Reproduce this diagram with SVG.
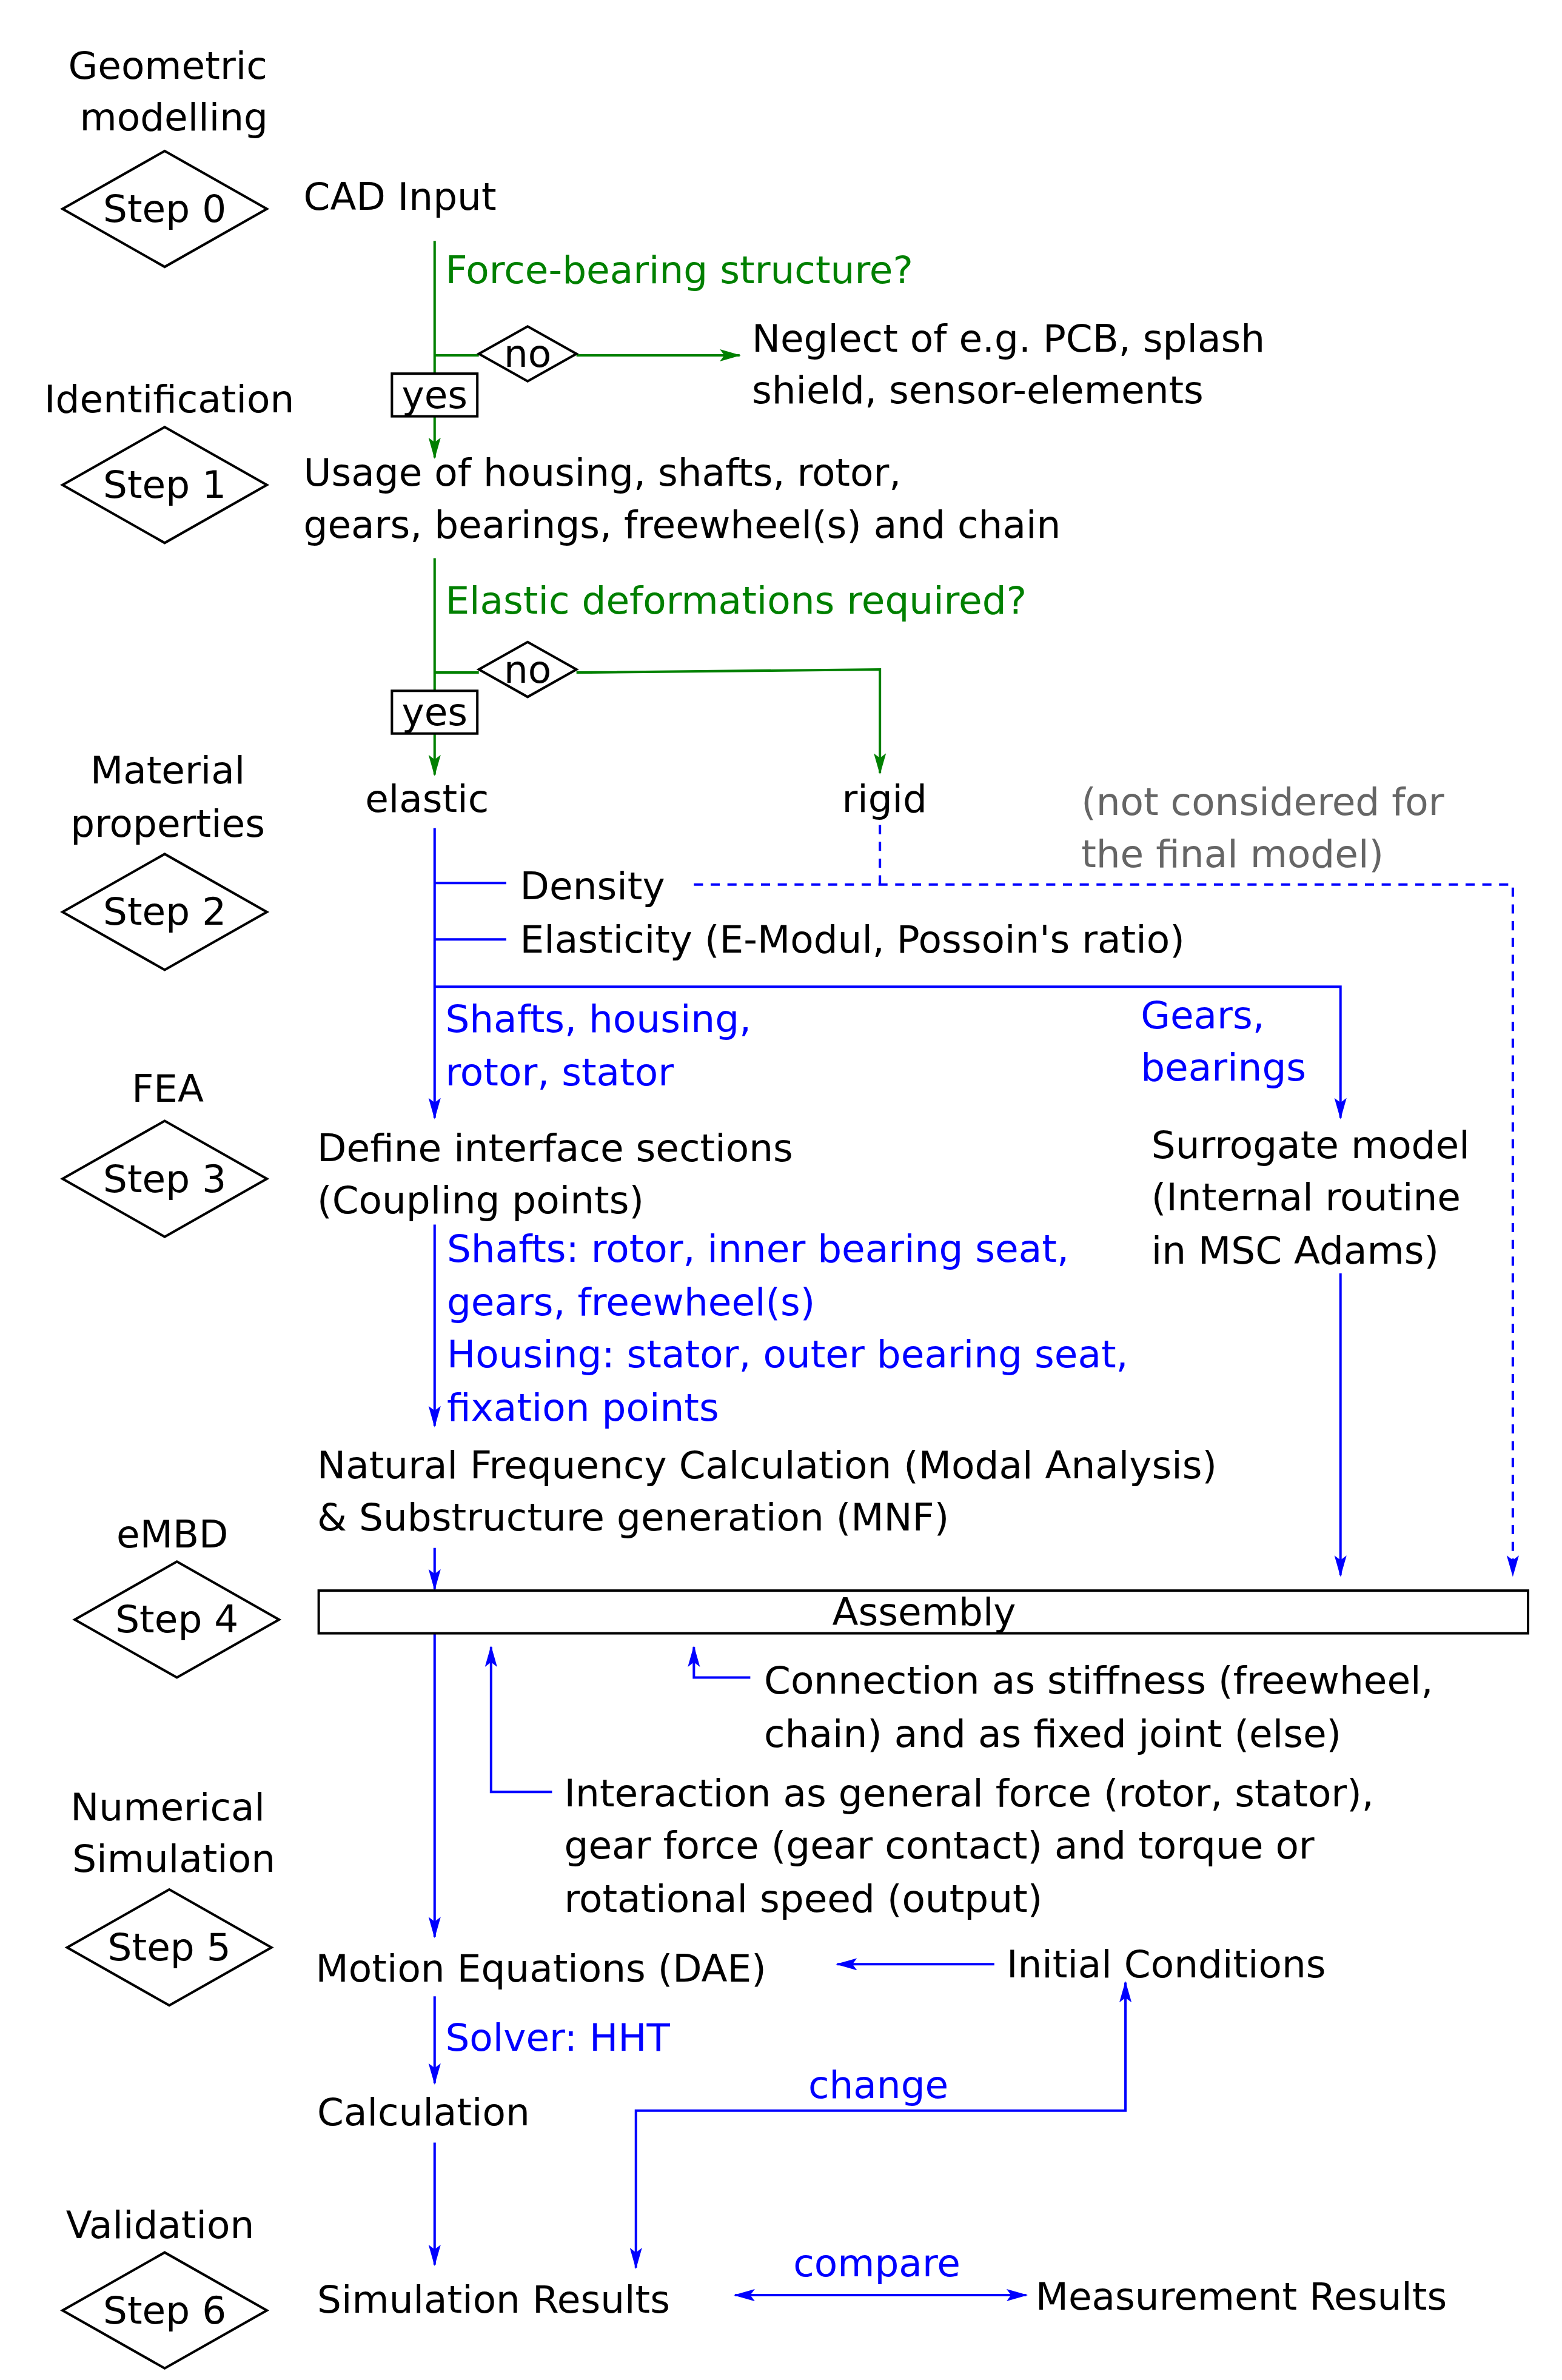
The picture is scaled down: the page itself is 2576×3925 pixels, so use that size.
<svg xmlns="http://www.w3.org/2000/svg" width="2576" height="3925" viewBox="0 0 2576 3925">
<style>
text{font-family:"DejaVu Sans","Liberation Sans",sans-serif;font-size:25px;dominant-baseline:central;fill:#000}
.m{text-anchor:middle}
.g{fill:#008000}.b{fill:#0000ff}.gr{fill:#666}
.d{fill:#fff;stroke:#000;stroke-width:1.6}
.lg{fill:none;stroke:#008000;stroke-width:1.6}
.lb{fill:none;stroke:#0000ff;stroke-width:1.6}
.dash{stroke-dasharray:6,5}
</style>
<defs>
<marker id="ag" markerUnits="userSpaceOnUse" markerWidth="14" markerHeight="10" refX="13" refY="4" orient="auto-start-reverse"><path d="M0,0L14,4L0,8L3,4Z" fill="#008000"/></marker>
<marker id="ab" markerUnits="userSpaceOnUse" markerWidth="14" markerHeight="10" refX="13" refY="4" orient="auto-start-reverse"><path d="M0,0L14,4L0,8L3,4Z" fill="#0000ff"/></marker>
</defs>
<rect width="2576" height="3925" fill="#fff"/>
<g transform="scale(2.515)">
<g id="connectors">
<path class="lg" d="M285,158V300" marker-end="url(#ag)"/>
<path class="lg" d="M285,233H314M378,233H485" marker-end="url(#ag)"/>
<path class="lg" d="M285,366V508" marker-end="url(#ag)"/>
<path class="lg" d="M285,441H314M378,441L577,439V507" marker-end="url(#ag)"/>
<path class="lb" d="M285,543V733" marker-end="url(#ab)"/>
<path class="lb" d="M285,579H332M285,616H332"/>
<path class="lb" d="M285,647H879V733" marker-end="url(#ab)"/>
<path class="lb dash" d="M455,580H992V1033" marker-end="url(#ab)"/>
<path class="lb dash" d="M577,541V580"/>
<path class="lb" d="M285,803V935" marker-end="url(#ab)"/>
<path class="lb" d="M879,835V1033" marker-end="url(#ab)"/>
<path class="lb" d="M285,1015V1042" marker-end="url(#ab)"/>
<path class="lb" d="M285,1071V1270" marker-end="url(#ab)"/>
<path class="lb" d="M362,1175H322V1080" marker-end="url(#ab)"/>
<path class="lb" d="M492,1100H455V1080" marker-end="url(#ab)"/>
<path class="lb" d="M652,1288H549" marker-end="url(#ab)"/>
<path class="lb" d="M285,1309V1366" marker-end="url(#ab)"/>
<path class="lb" d="M285,1405V1485" marker-end="url(#ab)"/>
<path class="lb" d="M417,1487V1384H738V1300" marker-start="url(#ab)" marker-end="url(#ab)"/>
<path class="lb" d="M482,1505H673" marker-start="url(#ab)" marker-end="url(#ab)"/>
</g>
<g id="step0"><text class="m" x="110" y="43">Geometric</text><text class="m" x="114" y="77">modelling</text><path class="d" d="M41,137L108,99L175,137L108,175Z"/><text class="m" x="108" y="137">Step 0</text></g>
<g id="step1"><text class="m" x="111" y="262">Identification</text><path class="d" d="M41,318L108,280L175,318L108,356Z"/><text class="m" x="108" y="318">Step 1</text></g>
<g id="step2"><text class="m" x="110" y="505">Material</text><text class="m" x="110" y="540">properties</text><path class="d" d="M41,598L108,560L175,598L108,636Z"/><text class="m" x="108" y="598">Step 2</text></g>
<g id="step3"><text class="m" x="110" y="714">FEA</text><path class="d" d="M41,773L108,735L175,773L108,811Z"/><text class="m" x="108" y="773">Step 3</text></g>
<g id="step4"><text class="m" x="113" y="1006">eMBD</text><path class="d" d="M49,1062L116,1024L183,1062L116,1100Z"/><text class="m" x="116" y="1062">Step 4</text></g>
<g id="step5"><text class="m" x="110" y="1185">Numerical</text><text class="m" x="114" y="1219">Simulation</text><path class="d" d="M44,1277L111,1239L178,1277L111,1315Z"/><text class="m" x="111" y="1277">Step 5</text></g>
<g id="step6"><text class="m" x="105" y="1459">Validation</text><path class="d" d="M41,1515L108,1477L175,1515L108,1553Z"/><text class="m" x="108" y="1515">Step 6</text></g>
<g id="cad"><text x="199" y="129">CAD Input</text></g>
<g id="q1"><text class="g" x="292" y="177">Force-bearing structure?</text></g>
<g id="no1"><path class="d" d="M314,232L346,214L378,232L346,250Z"/><text class="m" x="346" y="232">no</text></g>
<g id="yes1"><rect class="d" x="257" y="245" width="56" height="28"/><text class="m" x="285" y="259">yes</text></g>
<g id="neglect"><text x="493" y="222">Neglect of e.g. PCB, splash</text><text x="493" y="256">shield, sensor-elements</text></g>
<g id="usage"><text x="199" y="310">Usage of housing, shafts, rotor,</text><text x="199" y="344">gears, bearings, freewheel(s) and chain</text></g>
<g id="q2"><text class="g" x="292" y="394">Elastic deformations required?</text></g>
<g id="no2"><path class="d" d="M314,439L346,421L378,439L346,457Z"/><text class="m" x="346" y="439">no</text></g>
<g id="yes2"><rect class="d" x="257" y="453" width="56" height="28"/><text class="m" x="285" y="467">yes</text></g>
<g id="elastic"><text class="m" x="280" y="524">elastic</text></g>
<g id="rigid"><text class="m" x="580" y="524">rigid</text></g>
<g id="notconsidered"><text class="gr" x="709" y="526">(not considered for</text><text class="gr" x="709" y="560">the final model)</text></g>
<g id="density"><text x="341" y="581">Density</text></g>
<g id="elasticity"><text x="341" y="616">Elasticity (E-Modul, Possoin's ratio)</text></g>
<g id="lbl1"><text class="b" x="292" y="668">Shafts, housing,</text><text class="b" x="292" y="703">rotor, stator</text></g>
<g id="lbl2"><text class="b" x="748" y="666">Gears,</text><text class="b" x="748" y="700">bearings</text></g>
<g id="define"><text x="208" y="753">Define interface sections</text><text x="208" y="787">(Coupling points)</text></g>
<g id="surrogate"><text x="755" y="751">Surrogate model</text><text x="755" y="785">(Internal routine</text><text x="755" y="820">in MSC Adams)</text></g>
<g id="lbl3"><text class="b" x="293" y="819">Shafts: rotor, inner bearing seat,</text><text class="b" x="293" y="854">gears, freewheel(s)</text><text class="b" x="293" y="888">Housing: stator, outer bearing seat,</text><text class="b" x="293" y="923">fixation points</text></g>
<g id="natural"><text x="208" y="961">Natural Frequency Calculation (Modal Analysis)</text><text x="208" y="995">&amp; Substructure generation (MNF)</text></g>
<g id="assembly"><rect class="d" x="209" y="1043" width="793" height="28"/><text class="m" x="606" y="1057">Assembly</text></g>
<g id="connection"><text x="501" y="1102">Connection as stiffness (freewheel,</text><text x="501" y="1137">chain) and as fixed joint (else)</text></g>
<g id="interaction"><text x="370" y="1176">Interaction as general force (rotor, stator),</text><text x="370" y="1210">gear force (gear contact) and torque or</text><text x="370" y="1245">rotational speed (output)</text></g>
<g id="motion"><text x="207" y="1291">Motion Equations (DAE)</text></g>
<g id="initial"><text x="660" y="1288">Initial Conditions</text></g>
<g id="solver"><text class="b" x="292" y="1336">Solver: HHT</text></g>
<g id="calc"><text x="208" y="1385">Calculation</text></g>
<g id="change"><text class="b m" x="576" y="1367">change</text></g>
<g id="sim"><text x="208" y="1508">Simulation Results</text></g>
<g id="compare"><text class="b m" x="575" y="1484">compare</text></g>
<g id="meas"><text x="679" y="1506">Measurement Results</text></g>
</g>
</svg>
